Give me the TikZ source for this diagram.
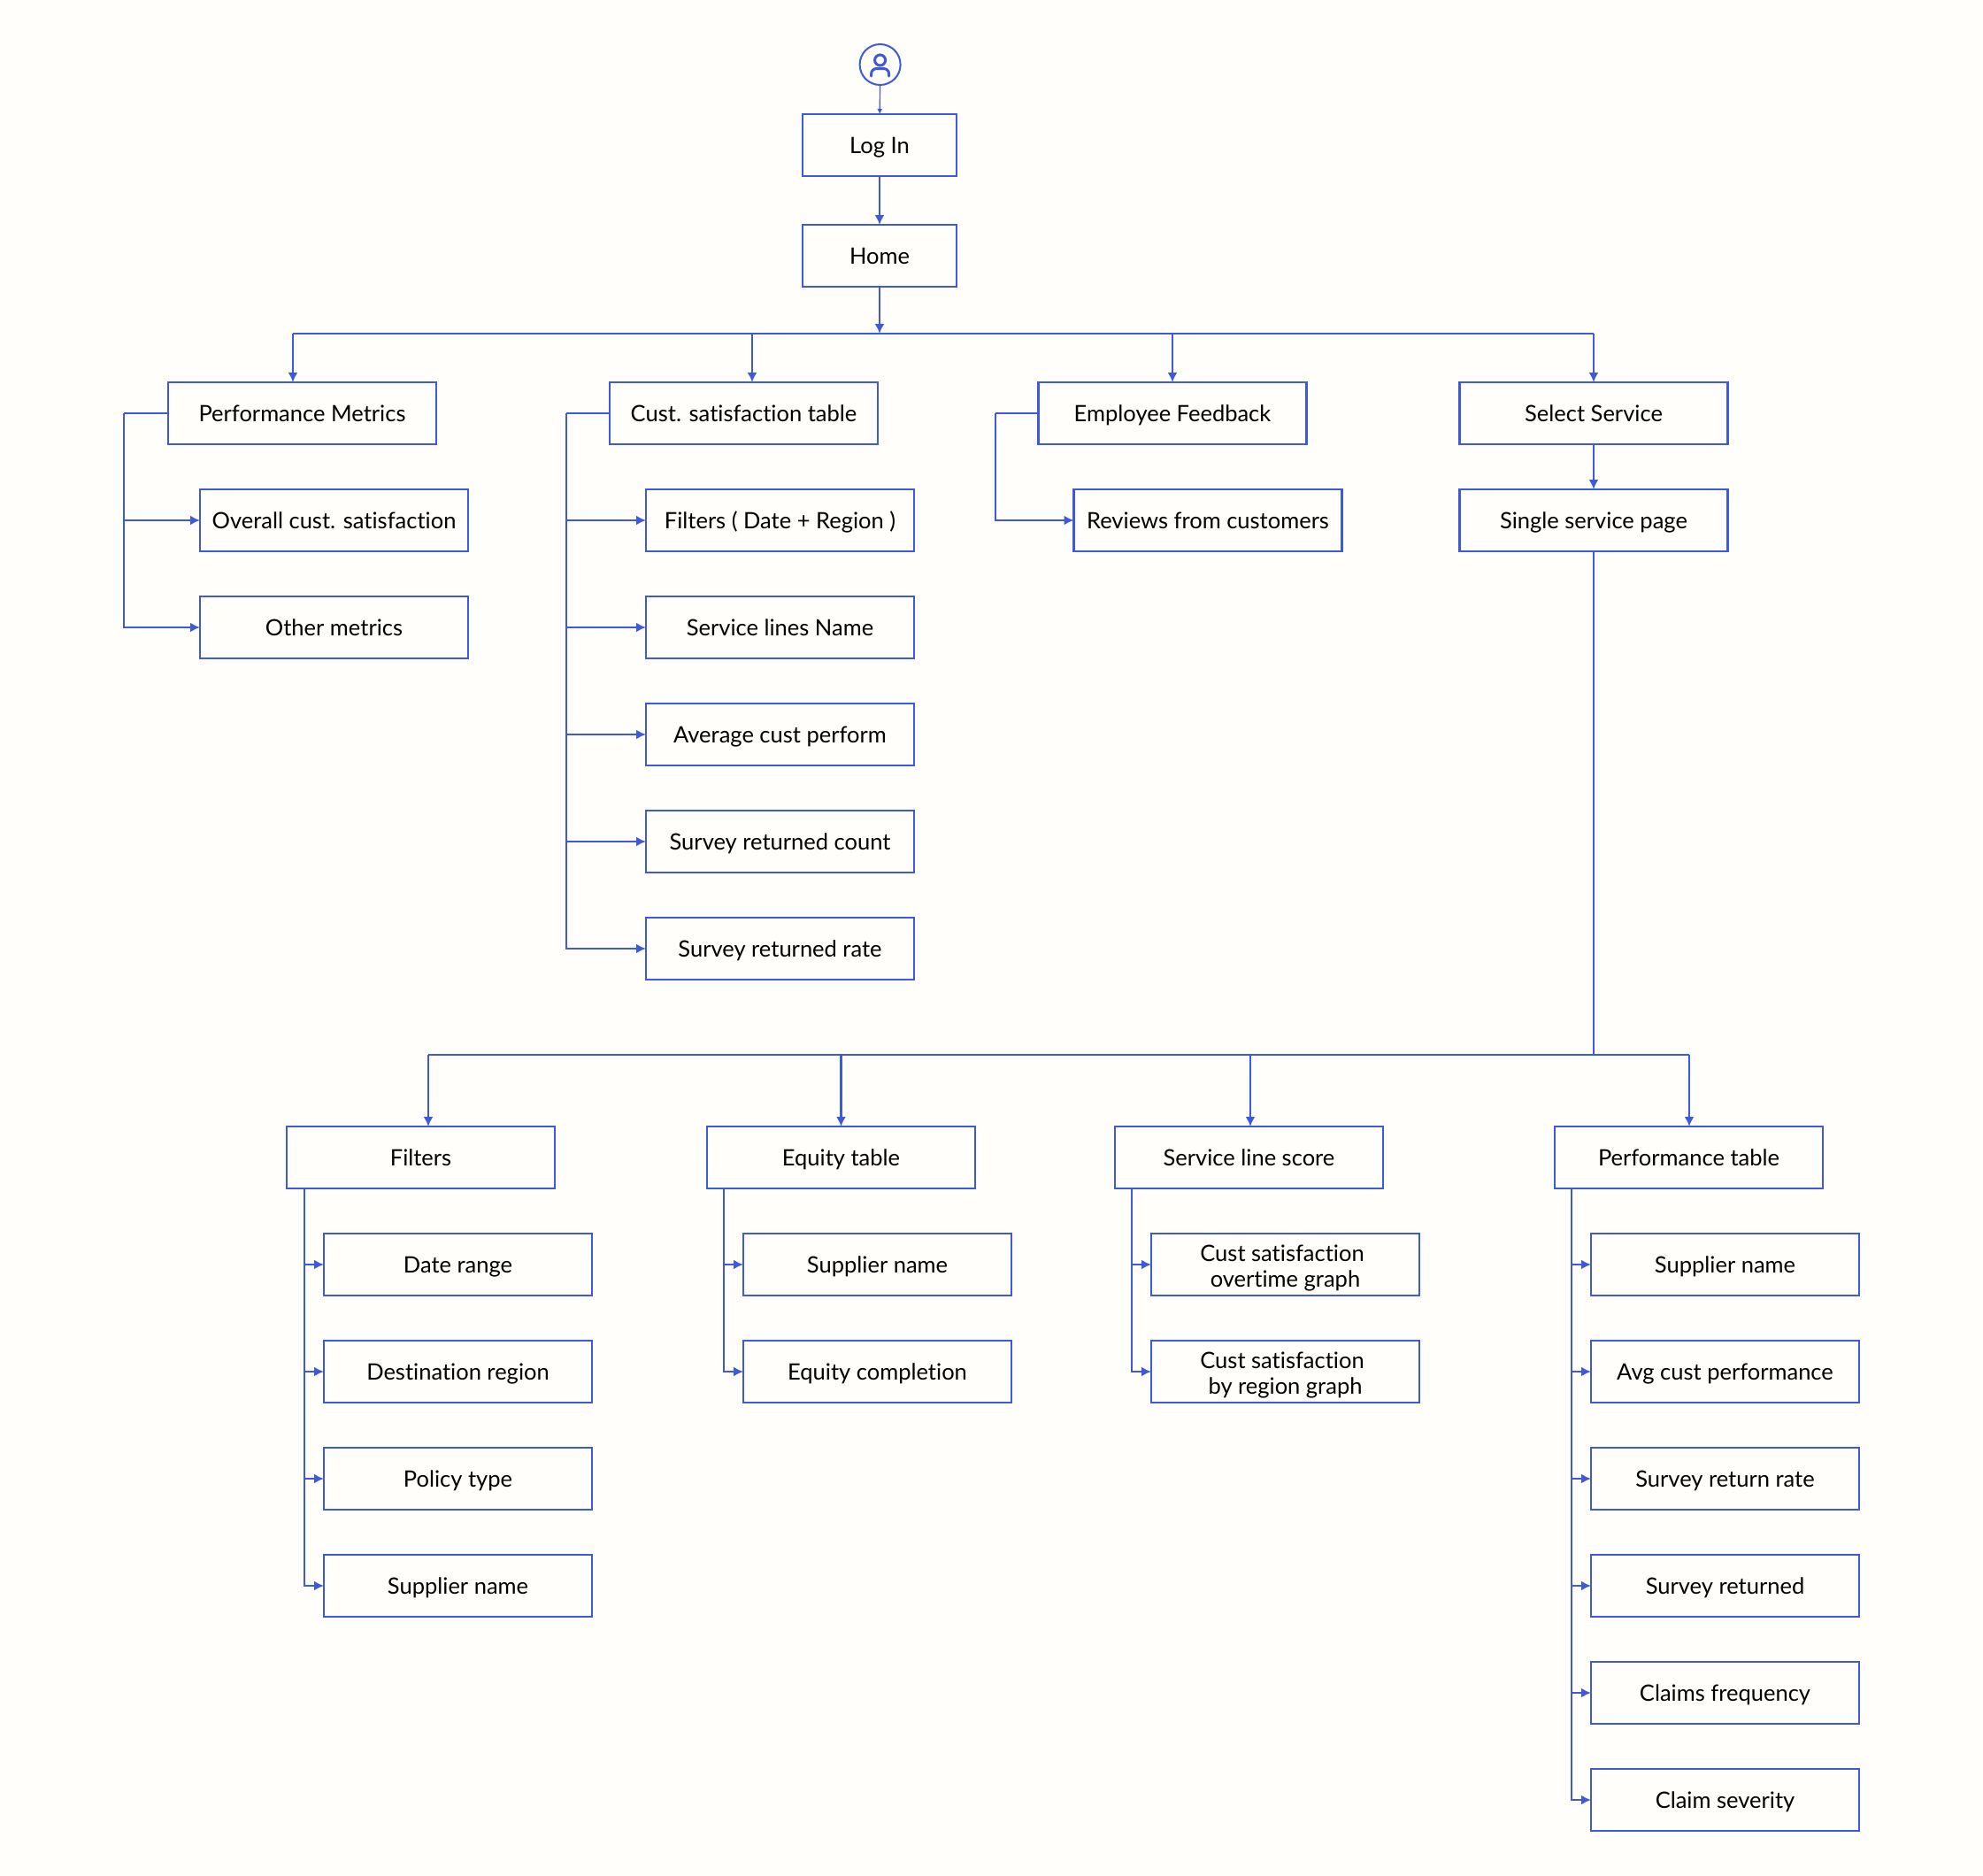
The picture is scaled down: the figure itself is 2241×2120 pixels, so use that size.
\documentclass[tikz,border=0pt]{standalone}
\usepackage{fontspec}
\setmainfont[Ligatures={NoCommon}]{Lato}
\usetikzlibrary{arrows.meta,positioning}
\definecolor{linecol}{HTML}{3D5ADC}
\definecolor{pagecol}{HTML}{FFFEFA}

\begin{document}
\begin{tikzpicture}[x=1pt,y=-1pt,>={Latex[length=11pt,width=11pt]},node distance=51pt]
  \tikzstyle{box}=[draw=linecol,line width=2.5pt,minimum width=303pt,minimum height=70pt,outer sep=0pt,inner sep=0pt,align=center,font=\fontsize{25.5}{29}\selectfont,execute at begin node={\rule[-7pt]{0pt}{32pt}},execute at end node={\rule[-7pt]{0pt}{32pt}}]
  \tikzstyle{line}=[draw=linecol,line width=2.2pt]
  \fill[pagecol] (0,0) rectangle (2241,2120);
  % top
  \node[draw=linecol,line width=2pt,circle,minimum size=46pt,outer sep=0pt,inner sep=0pt] (user) at (994.6,73) {};
  \node[draw=linecol,line width=3pt,circle,minimum size=12pt,inner sep=0pt] (head) at (994.6,68) {};
  \draw[linecol,line width=3pt,line cap=round,rounded corners=6pt] (984.6,86) -- (984.6,77.5) -- (1004.6,77.5) -- (1004.6,86);
  \node[box,minimum width=174pt] (login) at (994,164) {Log In};
  \node[box,minimum width=174pt,below=55pt of login] (home) {Home};
  \draw[line,line width=1.2pt,->,>={Latex[length=6pt,width=6pt]}] (user) -- (login);
  \draw[line,->] (login) -- (home);
  % first row
  \node[box] (pm) at (341.5,467) {Performance Metrics};
  \node[box,right=196pt of pm] (cs) {Cust. satisfaction table};
  \node[box,right=181.5pt of cs] (ef) {Employee Feedback};
  \node[box,right=173pt of ef] (ss) {Select Service};
  \coordinate (busa) at (994,377);
  \coordinate (busl) at (331,377);
  \coordinate (bcs) at (850,377);
  \coordinate (busr) at (1801,377);
  \draw[line] (busl) -- (busr);
  \draw[line,->] (home) -- (busa);
  \draw[line,->] (busl) -- (busl |- pm.north);
  \draw[line,->] (bcs) -- (bcs |- cs.north);
  \draw[line,->] (ef.north |- busl) -- (ef.north);
  \draw[line,->] (busr) -- (ss.north);
  % performance metrics
  \node[box,below=51pt of pm,xshift=36pt] (pm1) {Overall cust. satisfaction};
  \node[box,below=of pm1] (pm2) {Other metrics};
  \coordinate[left=50pt of pm] (pmt);
  \draw[line] (pm) -- (pmt);
  \draw[line,->] (pmt) |- (pm1);
  \draw[line,->] (pmt) |- (pm2);
  % satisfaction table
  \node[box,below=51pt of cs,xshift=41pt] (cs1) {Filters ( Date + Region )};
  \node[box,below=of cs1] (cs2) {Service lines Name};
  \node[box,below=of cs2] (cs3) {Average cust perform};
  \node[box,below=of cs3] (cs4) {Survey returned count};
  \node[box,below=of cs4] (cs5) {Survey returned rate};
  \coordinate[left=49pt of cs] (cst);
  \draw[line] (cs) -- (cst);
  \draw[line,->] (cst) |- (cs1);
  \draw[line,->] (cst) |- (cs2);
  \draw[line,->] (cst) |- (cs3);
  \draw[line,->] (cst) |- (cs4);
  \draw[line,->] (cst) |- (cs5);
  % feedback
  \node[box,below=51pt of ef,xshift=40pt] (ef1) {Reviews from customers};
  \coordinate[left=48.5pt of ef] (eft);
  \draw[line] (ef) -- (eft);
  \draw[line,->] (eft) |- (ef1);
  % single service
  \node[box,below=of ss] (sp) {Single service page};
  \draw[line,->] (ss) -- (sp);
  % second row
  \node[box] (fl) at (475.5,1308) {Filters};
  \node[box,right=172pt of fl] (eq) {Equity table};
  \node[box,right=158pt of eq] (sv) {Service line score};
  \node[box,right=194pt of sv] (pt) {Performance table};
  \coordinate (busb) at (sp.south |- 0,1192);
  \coordinate (bfl) at (484,1192);
  \coordinate (bsv) at (1413,1192);
  \coordinate (bpt) at (1909,1192);
  \draw[line] (sp) -- (busb);
  \draw[line] (bfl) -- (bpt);
  \draw[line,->] (bfl) -- (bfl |- fl.north);
  \draw[line,->] (eq.north |- bfl) -- (eq.north);
  \draw[line,->] (bsv) -- (bsv |- sv.north);
  \draw[line,->] (bpt) -- (bpt |- pt.north);
  % filters
  \node[box,below=51pt of fl,xshift=42pt] (fl1) {Date range};
  \node[box,below=of fl1] (fl2) {Destination region};
  \node[box,below=of fl2] (fl3) {Policy type};
  \node[box,below=of fl3] (fl4) {Supplier name};
  \coordinate (flt) at ([xshift=20pt]fl.south west);
  \draw[line,->] (flt) |- (fl1);
  \draw[line,->] (flt) |- (fl2);
  \draw[line,->] (flt) |- (fl3);
  \draw[line,->] (flt) |- (fl4);
  % equity
  \node[box,below=51pt of eq,xshift=41pt] (eq1) {Supplier name};
  \node[box,below=of eq1] (eq2) {Equity completion};
  \coordinate (eqt) at ([xshift=19pt]eq.south west);
  \draw[line,->] (eqt) |- (eq1);
  \draw[line,->] (eqt) |- (eq2);
  % score
  \node[box,below=51pt of sv,xshift=41pt] (sv1) {\rule{0pt}{28pt}Cust satisfaction\hspace*{7pt}\\overtime graph};
  \node[box,below=of sv1] (sv2) {\rule{0pt}{28pt}Cust satisfaction\hspace*{7pt}\\by region graph};
  \coordinate (svt) at ([xshift=19pt]sv.south west);
  \draw[line,->] (svt) |- (sv1);
  \draw[line,->] (svt) |- (sv2);
  % performance table
  \node[box,below=51pt of pt,xshift=41pt] (pt1) {Supplier name};
  \node[box,below=of pt1] (pt2) {Avg cust performance};
  \node[box,below=of pt2] (pt3) {Survey return rate};
  \node[box,below=of pt3] (pt4) {Survey returned};
  \node[box,below=of pt4] (pt5) {Claims frequency};
  \node[box,below=of pt5] (pt6) {Claim severity};
  \coordinate (ptt) at ([xshift=19pt]pt.south west);
  \draw[line,->] (ptt) |- (pt1);
  \draw[line,->] (ptt) |- (pt2);
  \draw[line,->] (ptt) |- (pt3);
  \draw[line,->] (ptt) |- (pt4);
  \draw[line,->] (ptt) |- (pt5);
  \draw[line,->] (ptt) |- (pt6);
\end{tikzpicture}
\end{document}
